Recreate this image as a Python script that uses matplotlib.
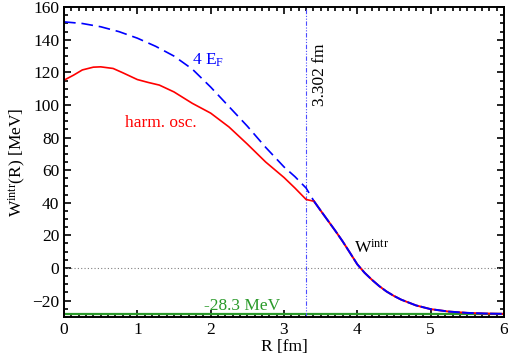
#!/usr/bin/env python3
"""Intrinsic energy W^intr(R) vs separation R."""

import matplotlib

matplotlib.use("Agg")
import matplotlib.pyplot as plt
from matplotlib.ticker import MultipleLocator

# 4 E_F curve (blue dashed), inner region
r_ef = [0.0, 0.25, 0.5, 0.75, 1.0, 1.25, 1.5, 1.75, 2.0, 2.25, 2.5, 2.75, 3.0, 3.15, 3.302, 3.41]
w_ef = [151.0, 150.0, 148.0, 145.0, 141.0, 136.0, 130.0, 122.0, 111.0, 99.0, 87.0, 74.0, 62.0, 56.0, 49.0, 40.9]

# harmonic oscillator curve (red), inner region
r_ho = [0.0, 0.13, 0.25, 0.4, 0.5, 0.67, 0.8, 1.0, 1.15, 1.3, 1.5, 1.75, 2.0, 2.25, 2.5, 2.75, 3.0, 3.15, 3.302, 3.41]
w_ho = [115.2, 118.3, 121.5, 123.2, 123.4, 122.4, 119.8, 115.6, 113.8, 112.2, 108.0, 101.0, 95.0, 86.5, 76.0, 65.0, 55.5, 49.0, 42.0, 40.9]

# common outer part W^intr
r_out = [3.41, 3.5, 3.6, 3.7, 3.8, 3.9, 4.0, 4.1, 4.2, 4.3, 4.4, 4.5, 4.6, 4.8, 5.0, 5.25, 5.5, 5.75, 6.0]
w_out = [40.9, 35.2, 29.0, 22.8, 16.3, 9.3, 2.2, -3.0, -7.3, -11.2, -14.5, -17.2, -19.5, -23.0, -25.3, -26.8, -27.6, -28.0, -28.2]

r_touch = 3.302
w_limit = -28.3

plt.rcParams["font.family"] = ["Liberation Serif", "DejaVu Serif"]
plt.rcParams["mathtext.fontset"] = "custom"
plt.rcParams["mathtext.rm"] = "Liberation Serif"
plt.rcParams["mathtext.it"] = "Liberation Serif:italic"
plt.rcParams["font.size"] = 12.5

fig = plt.figure(figsize=(5.08, 3.6), dpi=100)
ax = fig.add_axes([0.126, 0.12, 0.866, 0.86])

ax.axhline(0, color="gray", lw=0.8, ls=(0, (1, 2)))
ax.axhline(w_limit, color="#2a9a2a", lw=1.6)
ax.axvline(r_touch, color="#4d4dff", lw=0.8, ls=(0, (4, 1.5, 1, 1.5, 1, 1.5)))

ax.plot(r_ho, w_ho, color="red", lw=1.2)
ax.plot(r_ef, w_ef, color="blue", lw=1.2, ls=(0, (7, 3.5)))
ax.plot(r_out, w_out, color="red", lw=1.4)
ax.plot(r_out, w_out, color="blue", lw=1.4, ls=(0, (6, 1.2)))

ax.text(1.74, 124.8, "4 E$_\\mathrm{F}$", color="blue", va="baseline")
ax.text(0.83, 86.6, "harm. osc.", color="red", va="baseline")
ax.text(3.95, 9.2, "W$^\\mathrm{intr}$", color="black", va="baseline")
ax.text(1.91, -26.0, "-28.3 MeV", color="#2a9a2a", va="baseline")
ax.text(3.486, 118.3, "3.302 fm", rotation=90, ha="center", va="center")

ax.set_xlim(0, 6)
ax.set_ylim(-30, 160)
ax.xaxis.set_major_locator(MultipleLocator(1))
ax.xaxis.set_minor_locator(MultipleLocator(0.1))
ax.yaxis.set_major_locator(MultipleLocator(20))
ax.yaxis.set_minor_locator(MultipleLocator(5))
ax.tick_params(which="both", direction="in", top=True, right=True, width=1.2)
ax.tick_params(which="major", length=5)
ax.tick_params(which="minor", length=3)
for sp in ax.spines.values():
    sp.set_linewidth(1.4)

ax.set_xlabel("R [fm]", labelpad=1)
ax.set_ylabel("W$^\\mathrm{intr}$(R) [MeV]", labelpad=3)

fig.savefig("out.png", dpi=100)
